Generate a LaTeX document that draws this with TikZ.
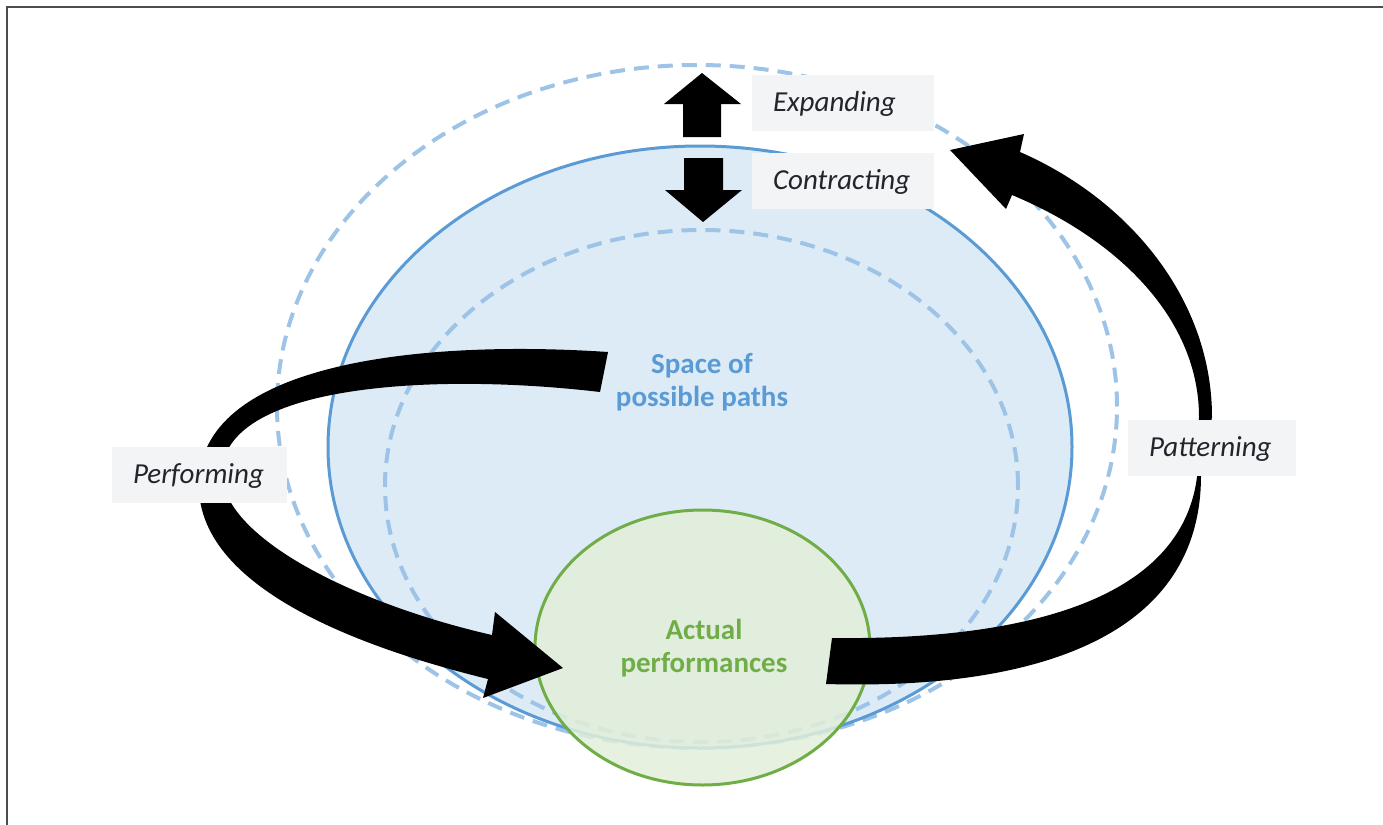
\documentclass[tikz,border=0pt]{standalone}
\usepackage{fontspec}
\setmainfont{Carlito}
\usepackage{tikz}
\usetikzlibrary{shapes.geometric}
\definecolor{pathline}{HTML}{5B9BD5}
\definecolor{pathfill}{HTML}{DDEBF7}
\definecolor{dashblue}{HTML}{9DC3E6}
\definecolor{actline}{HTML}{70AD47}
\definecolor{actfill}{HTML}{E2EFDA}
\definecolor{tagfill}{HTML}{F3F4F6}
\definecolor{tagtext}{HTML}{24242C}

\begin{document}
\begin{tikzpicture}[x=0.5pt,y=-0.5pt,
    region/.style={ellipse,inner sep=0pt},
    ring/.style={region,draw=dashblue,line width=2pt,dash pattern=on 7.5pt off 4.5pt},
    tag/.style={fill=tagfill,inner xsep=10.5pt,inner ysep=0pt,minimum height=28pt,
      align=left,text=tagtext,text height=10.5pt,text depth=2.5pt,
      font=\fontsize{14.5}{17}\selectfont\itshape},
    title/.style={align=center,font=\fontsize{14.5}{16.5}\selectfont\bfseries}]
  \useasboundingbox (0,0) rectangle (1383,825);
  \draw[line width=1pt,black!70] (1383,6.5) -- (6.5,6.5) -- (6.5,825);

  \path
  (697,406.5) node[ring,minimum width=420pt,minimum height=341.5pt](outer) {}
  (700,447) node[region,draw=pathline,fill=pathfill,line width=1.5pt,
    minimum width=372pt,minimum height=301pt](space) {}
  (701.5,486) node[ring,minimum width=316.5pt,minimum height=256pt](inner) {}
  (702.5,647.5) node[region,draw=actline,fill=actfill,fill opacity=0.85,line width=1.5pt,
    minimum width=167.5pt,minimum height=137.5pt](actual) {}
  (702,382) node[title,text=pathline](spacetxt) {Space of\\possible paths}
  (704,648) node[title,text=actline](actualtxt) {Actual\\performances}
  ;

  % expanding / contracting
  \fill (683,137) -- (683,104) -- (664,104) -- (702,73) -- (741,104) -- (721,104) -- (721,137) -- cycle;
  \fill (684,158) -- (723,158) -- (723,190) -- (742,190) -- (703,222) -- (665,190) -- (684,190) -- cycle;

  % performing
  \fill (608,352) .. controls (430,340) and (205,360) .. (199,480)
    .. controls (193,590) and (370,650) .. (488,679)
    -- (483,698) -- (563,668) -- (495,612) -- (492,635)
    .. controls (360,605) and (225,540) .. (222,475)
    .. controls (220,385) and (430,372) .. (600,392) -- cycle;

  % patterning
  \fill (826,684) .. controls (1030,690) and (1200,640) .. (1201,477)
    -- (1212,417) .. controls (1212,300) and (1130,200) .. (1020,152)
    -- (1024,134) -- (950,150) -- (1006,209) -- (1012,195)
    .. controls (1120,240) and (1199,320) .. (1199,417)
    -- (1197,477) .. controls (1180,610) and (1000,640) .. (832,638) -- cycle;

  \path
  (843,103) node[tag,text width=70pt](expand) {Expanding}
  (843,181) node[tag,text width=70pt](contract) {Contracting}
  (199.5,475) node[tag,text width=66.5pt](perform) {Performing}
  (1212,448) node[tag,text width=63pt](pattern) {Patterning}
  ;
\end{tikzpicture}
\end{document}
